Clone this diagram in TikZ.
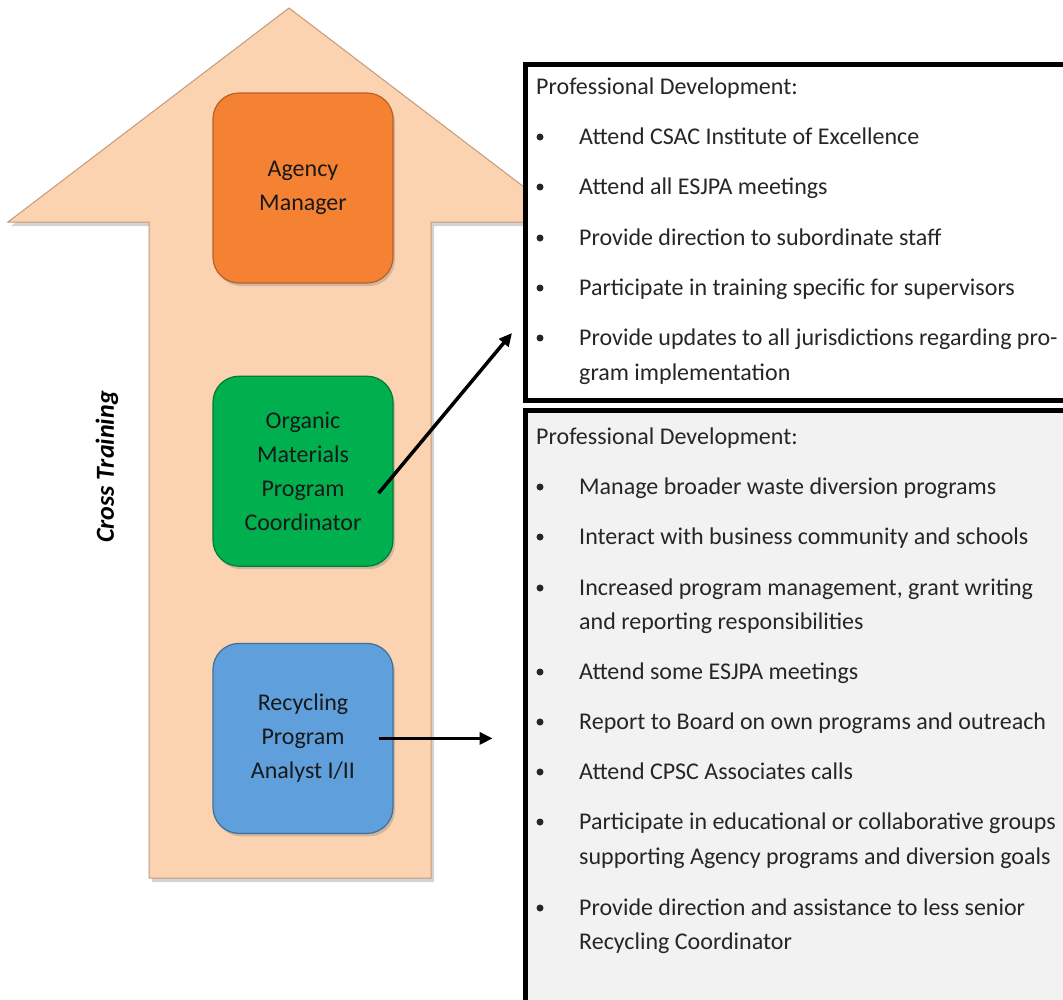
\documentclass[tikz,border=0pt]{standalone}
\usepackage{fontspec}
\setmainfont{Carlito}
\usetikzlibrary{positioning,shadows,arrows.meta}

\definecolor{peach}{HTML}{FCD3B1}
\definecolor{peachedge}{HTML}{C49A7A}
\definecolor{mgrorange}{HTML}{F58233}
\definecolor{orggreen}{HTML}{00B04F}
\definecolor{recblue}{HTML}{5E9FDC}
\definecolor{panelgray}{HTML}{F2F2F2}

\tikzset{
  role/.style={rounded corners=26pt, minimum width=180pt, minimum height=190pt,
    align=center, font=\fontsize{24}{34}\selectfont, text=black!90, line width=1.2pt,
    drop shadow={shadow xshift=2pt, shadow yshift=-3pt, opacity=0.35}},
  panel/.style={draw=black, line width=4.5pt, anchor=north west, minimum width=600pt},
  itemtext/.style={anchor=base west, inner sep=0pt, text=black!85,
    font=\fontsize{24}{28}\selectfont},
  link/.style={line width=3.5pt, -{Triangle[length=13pt,width=12pt]}},
}

\begin{document}
\begin{tikzpicture}[x=1pt,y=-1pt]
  \clip (0,0) rectangle (1063,999);

  % the big up arrow
  \path[fill=peach, draw=peachedge, line width=1pt,
        drop shadow={shadow xshift=3pt, shadow yshift=-4pt, opacity=0.35}]
    (289,8) -- (570,222) -- (431,222) -- (431,878) -- (149,878) -- (149,222) -- (8,222) -- cycle;
  \node[rotate=90, font=\bfseries\itshape\fontsize{26}{30}\selectfont] (cross) at (107,467) {Cross Training};

  % job titles
  \node[role, fill=mgrorange, draw=mgrorange!75!black] (agency) at (303,188) {Agency\\Manager};
  \node[role, fill=orggreen, draw=orggreen!70!black, below=92pt of agency] (organic)
    {Organic\\Materials\\Program\\Coordinator};
  \node[role, fill=recblue, draw=recblue!70!black, below=76pt of organic] (recycling)
    {Recycling\\Program\\Analyst I/II};

  % development panels
  \node[panel, fill=white, minimum height=336pt] (mgrpanel) at (523,62) {};
  \node[panel, fill=panelgray, minimum height=700pt] (recpanel) at (523,408) {};

  \node[itemtext] (mgrhead) at (536,94) {Professional Development:};
  \foreach \y/\txt in {137/Attend CSAC Institute of Excellence,
                       187/Attend all ESJPA meetings,
                       238/Provide direction to subordinate staff,
                       288/Participate in training specific for supervisors,
                       338/Provide updates to all jurisdictions regarding pro-}
  {
    \fill[black!85] (540,\y) circle (3.5pt);
    \node[itemtext] (mgr\y) at (579,\y+7) {\txt};
  }
  \node[itemtext] (mgr373) at (579,380) {gram implementation};

  \node[itemtext] (rechead) at (536,444) {Professional Development:};
  \foreach \y/\txt in {487/Manage broader waste diversion programs,
                       537/Interact with business community and schools,
                       588/{Increased program management, grant writing},
                       672/Attend some ESJPA meetings,
                       722/Report to Board on own programs and outreach,
                       772/Attend CPSC Associates calls,
                       822/Participate in educational or collaborative groups,
                       908/Provide direction and assistance to less senior}
  {
    \fill[black!85] (540,\y) circle (3.5pt);
    \node[itemtext] (rec\y) at (579,\y+7) {\txt};
  }
  \node[itemtext] (rec622) at (579,629) {and reporting responsibilities};
  \node[itemtext] (rec857) at (579,864) {supporting Agency programs and diversion goals};
  \node[itemtext] (rec942) at (579,949) {Recycling Coordinator};

  % connectors
  \coordinate (mgrend) at (512,333);
  \coordinate (recend) at ([xshift=99pt]recycling.east);
  \draw[link] ([xshift=-15pt,yshift=-22pt]organic.east) -- (mgrend);
  \draw[link] ([xshift=-15pt]recycling.east) -- (recend);
\end{tikzpicture}
\end{document}
